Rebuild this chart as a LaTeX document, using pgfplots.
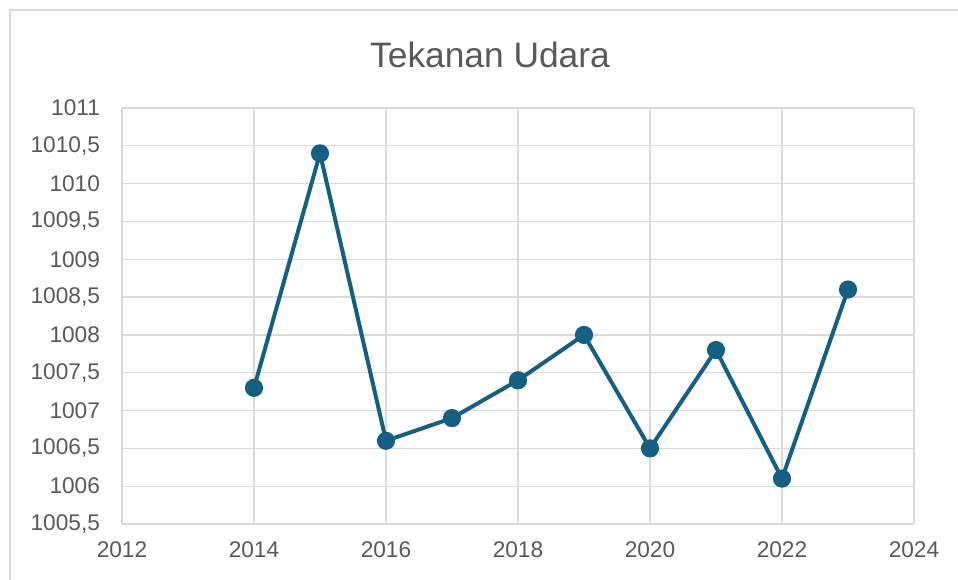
\documentclass[border=0pt]{standalone}
\usepackage{pgfplots}
\pgfplotsset{compat=1.18}
\usepackage{fontspec}
\setmainfont{Liberation Sans}
\definecolor{linecol}{HTML}{156082}
\definecolor{gridcol}{HTML}{D9D9D9}
\definecolor{txtcol}{HTML}{595959}

\begin{document}
\begin{tikzpicture}
% page = 958x580 px at 0.75pt per px; axis box south west at (0,0)
\useasboundingbox (-91.5pt,-42pt) rectangle (627pt,393pt);
\draw[gridcol, line width=1pt] (-84pt,-60pt) -- (-84pt,385.5pt) -- (660pt,385.5pt);
\node[txtcol, font=\fontsize{26.5}{30}\selectfont] at (276pt,351.75pt) {Tekanan Udara};
\begin{axis}[
    scale only axis,
    width=594pt,
    height=312pt,
    xmin=2012, xmax=2024,
    ymin=1005.5, ymax=1011,
    xtick={2012,2014,...,2024},
    ytick={1005.5,1006,...,1011},
    grid=major,
    major grid style={line width=1pt, draw=gridcol},
    axis line style={draw=none},
    axis x line*=bottom,
    axis y line*=left,
    x axis line style={draw=gridcol, line width=1pt},
    tick style={draw=none},
    ticklabel style={font=\fontsize{17}{20}\selectfont, text=txtcol},
    /pgf/number format/assume math mode=true,
    x tick label style={/pgf/number format/precision=0, /pgf/number format/1000 sep={}},
    y tick label style={/pgf/number format/use comma, /pgf/number format/1000 sep={}},
    xticklabel style={yshift=-10pt},
    yticklabel style={xshift=-13pt},
    scaled ticks=false,
    clip=false,
]
\addplot[color=linecol, line width=3pt, mark=*, mark size=5.3pt,
         mark options={solid, fill=linecol, draw=none}] coordinates {
    (2014, 1007.3)
    (2015, 1010.4)
    (2016, 1006.6)
    (2017, 1006.9)
    (2018, 1007.4)
    (2019, 1008.0)
    (2020, 1006.5)
    (2021, 1007.8)
    (2022, 1006.1)
    (2023, 1008.6)
};
\end{axis}
\end{tikzpicture}
\end{document}
